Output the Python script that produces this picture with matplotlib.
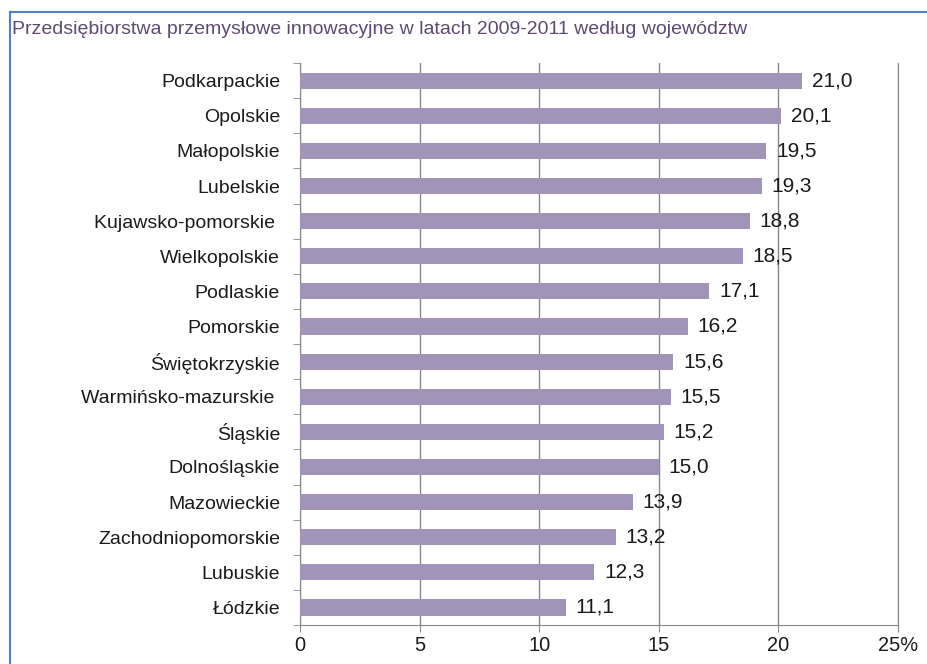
import numpy as np
import matplotlib.pyplot as plt
from matplotlib.lines import Line2D

# Regions and share of innovative industrial enterprises (%), top to bottom
regions = ["Podkarpackie", "Opolskie", "Małopolskie", "Lubelskie",
           "Kujawsko-pomorskie ", "Wielkopolskie", "Podlaskie", "Pomorskie",
           "Świętokrzyskie", "Warmińsko-mazurskie ", "Śląskie", "Dolnośląskie",
           "Mazowieckie", "Zachodniopomorskie", "Lubuskie", "Łódzkie"]
values = [21.0, 20.1, 19.5, 19.3, 18.8, 18.5, 17.1, 16.2,
          15.6, 15.5, 15.2, 15.0, 13.9, 13.2, 12.3, 11.1]
xticks = [0, 5, 10, 15, 20, 25]
xticklabels = ["0", "5", "10", "15", "20", "25%"]

plt.rcParams['font.family'] = ['Liberation Sans', 'DejaVu Sans']

fig = plt.figure(figsize=(9.28, 6.64), dpi=100)
ax = fig.add_axes([0.3233, 0.0587, 0.6444, 0.8463])

ypos = np.arange(len(regions))[::-1]
ax.barh(ypos, values, height=0.46, color="#a194b8", zorder=3)

for y, v in zip(ypos, values):
    ax.text(v + 0.42, y, f"{v:.1f}".replace(".", ","), va="center",
            ha="left", fontsize=15, color="#1a1a1a", zorder=4)

ax.set_xlim(0, 25)
ax.set_ylim(-0.5, len(regions) - 0.5)
ax.set_xticks(xticks)
ax.set_xticklabels(xticklabels, fontsize=14.4, color="#1a1a1a")
ax.set_yticks(ypos)
ax.set_yticklabels(regions, fontsize=14, color="#1a1a1a")
ax.set_yticks(np.arange(-0.5, len(regions), 1), minor=True)
ax.tick_params(axis="y", which="major", length=0, pad=14.4)
ax.tick_params(axis="y", which="minor", length=5, color="#888888")
ax.tick_params(axis="x", length=5, color="#888888", pad=3)

ax.grid(axis="x", color="#888888", linewidth=1, zorder=0)
ax.spines["top"].set_visible(False)
for side in ["left", "bottom", "right"]:
    ax.spines[side].set_color("#888888")

fig.text(0.013, 0.955, "Przedsiębiorstwa przemysłowe innowacyjne w latach 2009-2011 według województw",
         fontsize=14, color="#5e4a70", ha="left", va="center")

# blue frame (left and top edges)
fig.add_artist(Line2D([0.0105, 0.0105], [0.0, 0.982], color="#4f81bd", linewidth=1.5,
                      transform=fig.transFigure))
fig.add_artist(Line2D([0.0105, 1.0], [0.982, 0.982], color="#4f81bd", linewidth=1.5,
                      transform=fig.transFigure))

fig.savefig("out.png", dpi=100)
